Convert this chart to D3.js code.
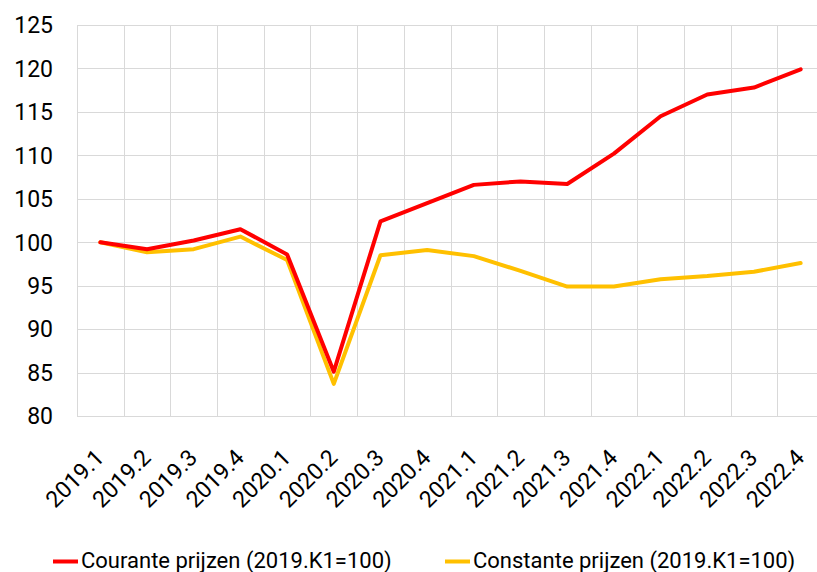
<!DOCTYPE html>
<html>
<head>
<meta charset="utf-8">
<title>Courante en constante prijzen</title>
<script src="https://cdn.jsdelivr.net/npm/d3@7/dist/d3.min.js"></script>
<style>
  html, body { margin: 0; padding: 0; background: #fff; }
  svg { display: block; font-family: Roboto, sans-serif; }
  .grid line { stroke: #d9d9d9; stroke-width: 1; }
  .ylab, .xlab { font-size: 23px; fill: #000; }
  .leg { font-size: 22px; fill: #000; }
</style>
</head>
<body>
<div id="chart"></div>
<script>
var quarters = ["2019.1","2019.2","2019.3","2019.4","2020.1","2020.2","2020.3","2020.4",
                "2021.1","2021.2","2021.3","2021.4","2022.1","2022.2","2022.3","2022.4"];
var courante = [100, 99.2, 100.2, 101.5, 98.6, 85.1, 102.4, 104.5,
                106.6, 107.0, 106.7, 110.2, 114.5, 117.0, 117.8, 119.9];
var constante = [100, 98.85, 99.2, 100.65, 97.95, 83.7, 98.5, 99.1,
                 98.4, 96.7, 94.9, 94.9, 95.75, 96.1, 96.6, 97.6];
var yTicks = [80, 85, 90, 95, 100, 105, 110, 115, 120, 125];
var seriesNames = ["Courante prijzen (2019.K1=100)", "Constante prijzen (2019.K1=100)"];
var colors = ["#ff0000", "#ffc000"];

var W = 817, H = 572;
var mLeft = 77, mTop = 25, mBottom = 416, mRight = 824;

var svg = d3.select("#chart").append("svg").attr("width", W).attr("height", H);

var x = d3.scaleBand().domain(quarters).range([mLeft, mRight]);
var y = d3.scaleLinear().domain([80, 125]).range([mBottom, mTop]);

// grid
var grid = svg.append("g").attr("class", "grid");
grid.selectAll("line.h").data(yTicks).enter().append("line")
  .attr("x1", mLeft).attr("x2", mRight)
  .attr("y1", function(d) { return Math.round(y(d)) + 0.5; })
  .attr("y2", function(d) { return Math.round(y(d)) + 0.5; });
var vx = quarters.map(function(q) { return x(q); }).concat([mRight]);
grid.selectAll("line.v").data(vx).enter().append("line")
  .attr("y1", mTop).attr("y2", mBottom)
  .attr("x1", function(d) { return Math.round(d) + 0.5; })
  .attr("x2", function(d) { return Math.round(d) + 0.5; });

// y labels
svg.selectAll("text.ylab").data(yTicks).enter().append("text")
  .attr("class", "ylab")
  .attr("x", 53)
  .attr("y", function(d) { return y(d); })
  .attr("dy", "0.36em")
  .attr("text-anchor", "end")
  .text(function(d) { return d; });

// x labels
svg.selectAll("text.xlab").data(quarters).enter().append("text")
  .attr("class", "xlab")
  .attr("text-anchor", "end")
  .attr("transform", function(d) {
    var cx = x(d) + x.bandwidth() / 2 + 5;
    return "translate(" + cx + "," + 459 + ") rotate(-45)";
  })
  .text(function(d) { return d; });

// lines
var line = d3.line()
  .x(function(d, i) { return x(quarters[i]) + x.bandwidth() / 2; })
  .y(function(d) { return y(d); });

[constante, courante].forEach(function(s, k) {
  svg.append("path")
    .datum(s)
    .attr("fill", "none")
    .attr("stroke", k === 0 ? colors[1] : colors[0])
    .attr("stroke-width", 4)
    .attr("stroke-linejoin", "round")
    .attr("stroke-linecap", "round")
    .attr("d", line);
});

// legend
var legX = [53, 445];
seriesNames.forEach(function(n, i) {
  svg.append("line")
    .attr("x1", legX[i]).attr("x2", legX[i] + 25)
    .attr("y1", 561.5).attr("y2", 561.5)
    .attr("stroke", colors[i]).attr("stroke-width", 4);
  svg.append("text")
    .attr("class", "leg")
    .attr("x", legX[i] + 28)
    .attr("y", 561)
    .attr("dy", "0.33em")
    .text(n);
});
</script>
</body>
</html>
